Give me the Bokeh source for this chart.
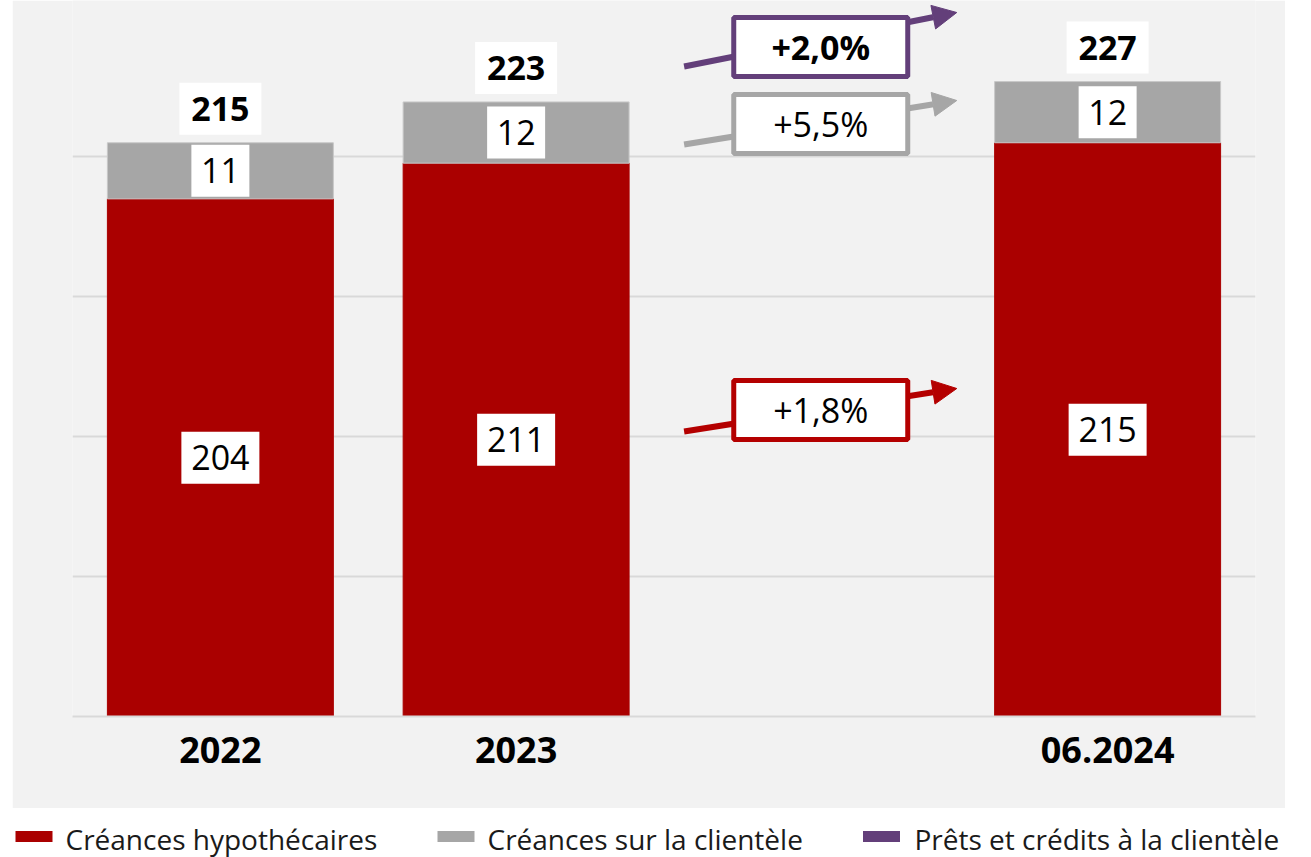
from bokeh.plotting import figure
from bokeh.models import ColumnDataSource, FactorRange, Range1d, FixedTicker, Arrow, NormalHead, Spacer
from bokeh.layouts import column, row
from bokeh.core.properties import value
from bokeh.embed import file_html
from bokeh.resources import INLINE

# ---- data ----
categories = ["2022", "2023", "06.2024"]
hypothecaires = [204, 211, 215]
clientele = [11, 12, 12]
totals = [215, 223, 227]
growth_labels = ["+1,8%", "+5,5%", "+2,0%"]
series_names = ["Créances hypothécaires", "Créances sur la clientèle", "Prêts et crédits à la clientèle"]

RED = "#AA0000"
GREY = "#A6A6A6"
PURPLE = "#633F7A"
ARROW_RED = "#B40000"
BG = "#F2F2F2"
FONT = "Open Sans"

factors = ["2022", "2023", " ", "06.2024"]
y0 = 102.5
px_per_unit = 5.1
frame_h = 716
y1 = y0 + frame_h / px_per_unit

p = figure(x_range=FactorRange(*factors), y_range=Range1d(y0, y1),
           width=1273, height=808, output_backend="svg", toolbar_location=None,
           min_border_left=60, min_border_right=30, min_border_top=0, min_border_bottom=92)
p.background_fill_color = BG
p.border_fill_color = BG
p.outline_line_color = None

src = ColumnDataSource(dict(cat=categories, hyp=hypothecaires, cli=clientele, tot=totals))
p.vbar_stack(["hyp", "cli"], x="cat", width=0.764, color=[RED, GREY],
             line_color=[RED, "#C8C8C8"], line_width=1, source=src)

# grid / axes
ticks = [y0 + 27.45 * k for k in range(5)]
p.yaxis.ticker = FixedTicker(ticks=ticks)
p.ygrid.ticker = FixedTicker(ticks=ticks)
p.yaxis.visible = False
p.xgrid.visible = False
p.ygrid.grid_line_color = "#D9D9D9"
p.ygrid.grid_line_width = 2
p.xaxis.axis_line_color = "#D9D9D9"
p.xaxis.axis_line_width = 2
p.xaxis.major_tick_line_color = None
p.xaxis.minor_tick_line_color = None
p.xaxis.major_label_text_font = FONT
p.xaxis.major_label_text_font_size = "36px"
p.xaxis.major_label_text_font_style = "bold"
p.xaxis.major_label_text_color = "#000000"
p.xaxis.major_label_standoff = 2

# value labels
red_mid = [(y0 + h) / 2 for h in hypothecaires]
grey_mid = [h + c / 2 for h, c in zip(hypothecaires, clientele)]
tot_y = [t + 34 / px_per_unit for t in totals]
lab = ColumnDataSource(dict(
    x=categories * 3,
    y=red_mid + grey_mid + tot_y,
    t=[str(v) for v in hypothecaires] + [str(v) for v in clientele] + [str(v) for v in totals],
    w=[20 * len(str(v)) + 18 for v in hypothecaires + clientele] + [82] * 3,
))
p.rect(x="x", y="y", width="w", height=52, width_units="screen", height_units="screen",
       fill_color="white", line_color=None, source=lab)
p.text(x=categories * 2, y=red_mid + grey_mid,
       text=[str(v) for v in hypothecaires] + [str(v) for v in clientele],
       text_font=value(FONT), text_font_size="34px", text_align="center",
       text_baseline="middle", text_color="#000000")
p.text(x=categories, y=tot_y, text=[str(v) for v in totals],
       text_font=value(FONT), text_font_size="34px", text_font_style="bold",
       text_align="center", text_baseline="middle", text_color="#000000")

# growth arrows in the empty slot (synthetic x coordinates)
def ypx(py):
    return y0 + (frame_h - py) / px_per_unit

arrow_specs = [  # (color, y_start_px, y_tip_px, box_center_px, bold)
    (ARROW_RED, 431, 388, 409.5, False),
    (GREY, 144, 100, 123.5, False),
    (PURPLE, 66, 12, 46.5, True),
]
x_start, x_tip, x_box = 2.068, 2.99, 2.53
for (c, ys, yt, yb, bold), g in zip(arrow_specs, growth_labels):
    a = Arrow(end=NormalHead(size=24, fill_color=c, line_color=c, line_width=1),
              x_start=x_start, y_start=ypx(ys), x_end=x_tip, y_end=ypx(yt),
              line_color=c, line_width=6, level="underlay")
    p.add_layout(a)
    p.rect(x=[x_box], y=[ypx(yb)], width=174, height=59, width_units="screen",
           height_units="screen", fill_color="white", line_color=c, line_width=5)
    p.text(x=[x_box], y=[ypx(yb)], text=[g], text_font=value(FONT), text_font_size="34px",
           text_font_style="bold" if bold else "normal", text_align="center",
           text_baseline="middle", text_color="#000000")

# legend strip
leg = figure(width=1311, height=49, x_range=Range1d(0, 1311), y_range=Range1d(49, 0),
             output_backend="svg", toolbar_location=None, min_border=0)
leg.axis.visible = False
leg.grid.visible = False
leg.outline_line_color = None
leg.background_fill_color = "white"
leg.border_fill_color = "white"
sw_x = [33.5, 455.5, 881]
tx_x = [65, 487, 914]
leg.rect(x=sw_x, y=[28] * 3, width=37, height=11, fill_color=[RED, GREY, PURPLE], line_color=None)
leg.text(x=tx_x, y=[30] * 3, text=series_names, text_font=value(FONT), text_font_size="28px",
         text_baseline="middle", text_align="left", text_color="#1A1A1A")

layout = column(row(Spacer(width=12, height=808), p), leg)
open("out.html", "w").write(file_html(layout, INLINE))
